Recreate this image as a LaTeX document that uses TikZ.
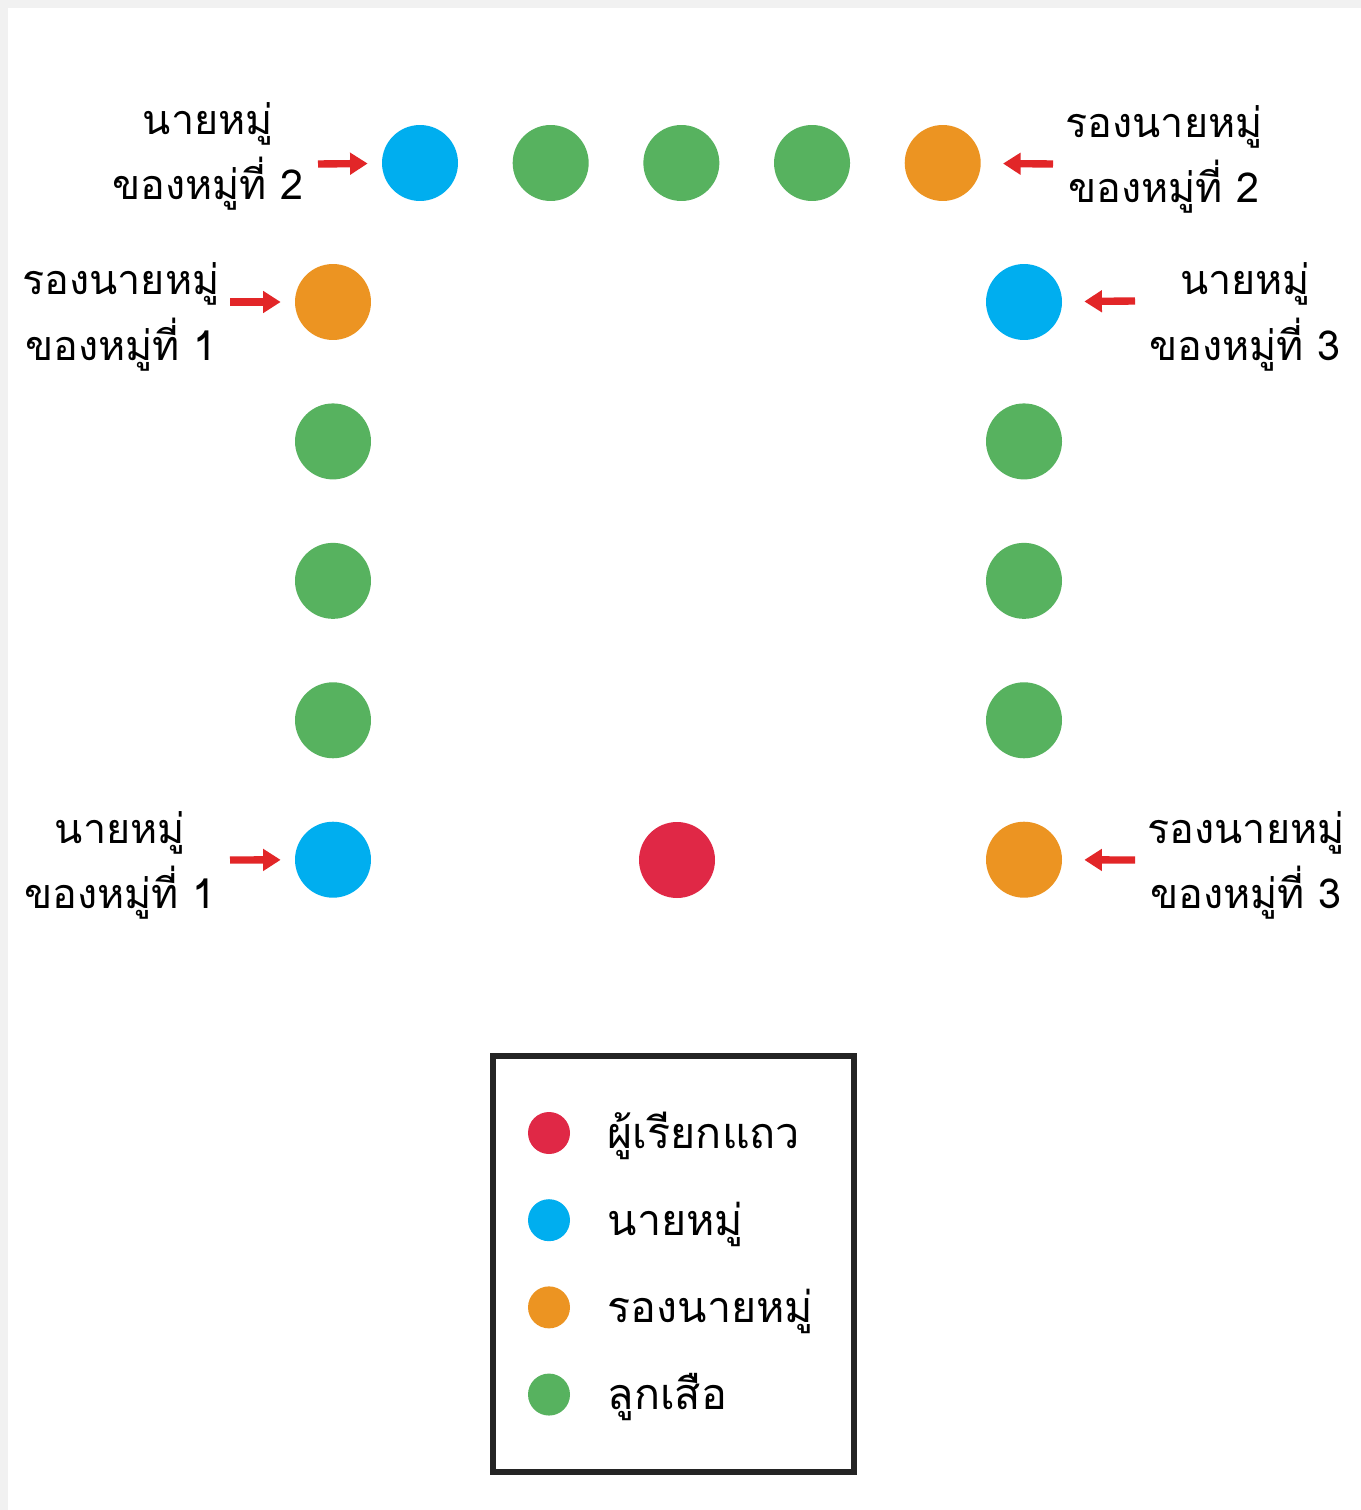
\documentclass[tikz,border=0pt]{standalone}
\usepackage{fontspec}
\newfontfamily\thaifont[Script=Thai]{Loma}
\usetikzlibrary{arrows.meta,positioning}
\definecolor{leaderblue}{RGB}{0,174,239}
\definecolor{seconddot}{RGB}{236,148,34}
\definecolor{scoutgreen}{RGB}{87,178,95}
\definecolor{callred}{RGB}{224,40,70}
\definecolor{arrowred}{RGB}{226,38,40}
\definecolor{framegray}{RGB}{241,241,241}

\begin{document}
\begin{tikzpicture}[x=0.02cm,y=-0.02cm,node distance=1.255cm and 1.08cm,
  dot/.style={circle,minimum size=1.52cm,inner sep=0pt},
  key/.style={circle,minimum size=0.84cm,inner sep=0pt},
  lab/.style={align=center,inner sep=0pt,anchor=base,font=\thaifont\fontsize{23.5}{37}\selectfont},
  keytext/.style={inner sep=0pt,font=\thaifont\fontsize{24.5}{37}\selectfont},
  pointer/.style={-{Triangle[length=10pt,width=12pt]},line width=4.2pt,arrowred,shorten >=0.28cm}]
  \useasboundingbox (0,0) rectangle (1361,1510);
  \fill[framegray] (0,0) rectangle (1361,1510);
  \fill[white] (8,8) rectangle (1361,1510);

  % top row (patrol 2)
  \node[dot,fill=leaderblue] (b2) at (420,163) {};
  \node[dot,fill=scoutgreen,right=of b2] (g21) {};
  \node[dot,fill=scoutgreen,right=of g21] (g22) {};
  \node[dot,fill=scoutgreen,right=of g22] (g23) {};
  \node[dot,fill=seconddot,right=of g23] (o2) {};

  % left column (patrol 1)
  \node[dot,fill=seconddot] (o1) at (333,302) {};
  \node[dot,fill=scoutgreen,below=of o1] (g11) {};
  \node[dot,fill=scoutgreen,below=of g11] (g12) {};
  \node[dot,fill=scoutgreen,below=of g12] (g13) {};
  \node[dot,fill=leaderblue,below=of g13] (b1) {};

  % right column (patrol 3)
  \node[dot,fill=leaderblue] (b3) at (1024,302) {};
  \node[dot,fill=scoutgreen,below=of b3] (g31) {};
  \node[dot,fill=scoutgreen,below=of g31] (g32) {};
  \node[dot,fill=scoutgreen,below=of g32] (g33) {};
  \node[dot,fill=seconddot,below=of g33] (o3) {};

  \node[dot,fill=callred] (caller) at (677,860) {};

  % labels (base = last line)
  \node[lab] (lb2) at (208,200) {นายหมู่\\ของหมู่ที่ 2};
  \node[lab] (lo2) at (1164,203) {รองนายหมู่\\ของหมู่ที่ 2};
  \node[lab] (lo1) at (121,360) {รองนายหมู่\\ของหมู่ที่ 1};
  \node[lab] (lb3) at (1245,360) {นายหมู่\\ของหมู่ที่ 3};
  \node[lab] (lb1) at (120,908) {นายหมู่\\ของหมู่ที่ 1};
  \node[lab] (lo3) at (1246,908) {รองนายหมู่\\ของหมู่ที่ 3};

  \coordinate (ab2) at (318,164);
  \coordinate (ao1) at (230,302);
  \coordinate (ab1) at (230,860);
  \coordinate (ao2) at (1053,164);
  \coordinate (ab3) at (1135,301);
  \coordinate (ao3) at (1135,860);
  \draw[pointer] (ab2) -- (b2);
  \draw[pointer] (ao1) -- (o1);
  \draw[pointer] (ab1) -- (b1);
  \draw[pointer,shorten >=0.44cm] (ao2) -- (o2);
  \draw[pointer,shorten >=0.44cm] (ab3) -- (b3);
  \draw[pointer,shorten >=0.44cm] (ao3) -- (o3);

  % legend
  \draw[line width=3.4pt,black!86] (493,1056) rectangle (854,1472);
  \node[key,fill=callred] (kcall) at (549,1133) {};
  \node[key,fill=leaderblue,below=0.89cm of kcall] (klead) {};
  \node[key,fill=seconddot,below=0.89cm of klead] (ksec) {};
  \node[key,fill=scoutgreen,below=0.89cm of ksec] (kscout) {};
  \node[keytext,base right=0.74cm of kcall,yshift=-0.3cm] (tcall) {ผู้เรียกแถว};
  \node[keytext,base right=0.74cm of klead,yshift=-0.3cm] (tlead) {นายหมู่};
  \node[keytext,base right=0.74cm of ksec,yshift=-0.3cm] (tsec) {รองนายหมู่};
  \node[keytext,base right=0.74cm of kscout,yshift=-0.3cm] (tscout) {ลูกเสือ};
\end{tikzpicture}
\end{document}
